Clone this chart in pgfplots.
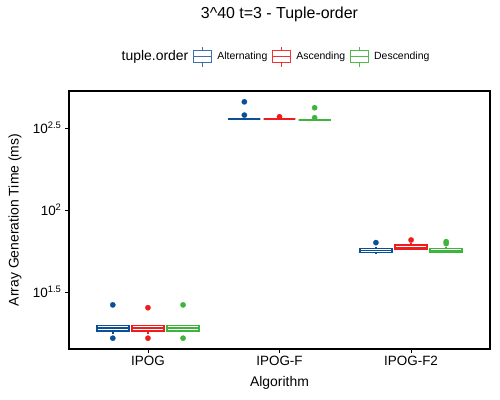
\documentclass[border=0pt]{standalone}
\usepackage{fontspec}
\setmainfont{Liberation Sans}
\usepackage{pgfplots}
\pgfplotsset{compat=1.18}
\usepgfplotslibrary{statistics}
\definecolor{cA}{HTML}{0B4F94}
\definecolor{cB}{HTML}{EE1C1C}
\definecolor{cC}{HTML}{3DB53D}
\pgfplotsset{
  legA/.style={legend image code/.code={
     \draw[cA!80, line width=1bp, fill=white] (0bp,-6bp) rectangle (18bp,6bp);
     \draw[cA!80, line width=1bp] (0bp,0bp) -- (18bp,0bp) (9bp,6bp) -- (9bp,10bp) (9bp,-6bp) -- (9bp,-10bp);}},
  legB/.style={legend image code/.code={
     \draw[cB!90, line width=1bp, fill=white] (0bp,-6bp) rectangle (18bp,6bp);
     \draw[cB!90, line width=1bp] (0bp,0bp) -- (18bp,0bp) (9bp,6bp) -- (9bp,10bp) (9bp,-6bp) -- (9bp,-10bp);}},
  legC/.style={legend image code/.code={
     \draw[cC!90, line width=1bp, fill=white] (0bp,-6bp) rectangle (18bp,6bp);
     \draw[cC!90, line width=1bp] (0bp,0bp) -- (18bp,0bp) (9bp,6bp) -- (9bp,10bp) (9bp,-6bp) -- (9bp,-10bp);}},
  bx/.style 2 args={draw=#1, /tikz/line width=#2, fill=white, forget plot, mark=*, mark size=2.7bp,
     mark options={solid, fill=#1, draw=#1, /tikz/line width=0.2bp},
     boxplot/every box/.style={draw=#1, fill=white, /tikz/line width=#2},
     boxplot/every median/.style={draw=#1, /tikz/line width=#2},
     boxplot/every whisker/.style={draw=#1, /tikz/line width=#2}},
}
\begin{document}
\begin{tikzpicture}
\useasboundingbox (0,0) rectangle (500bp,400bp);
\begin{axis}[
  at={(69bp,51bp)}, anchor=south west,
  scale only axis, width=421bp, height=258bp,
  xmin=0.4, xmax=3.6, ymin=1.152, ymax=2.726,
  xtick={1,2,3}, xticklabels={IPOG,IPOG-F,IPOG-F2},
  ytick={1.5,2,2.5},
  yticklabels={10\textsuperscript{1.5},10\textsuperscript{2},10\textsuperscript{2.5}},
  tick align=outside, tick pos=left, major tick length=4bp,
  every tick/.style={black, line width=0.8bp},
  axis line style={line width=1.2bp},
  ticklabel style={font=\fontsize{13.5}{16}\selectfont},
  xlabel={Algorithm}, ylabel={Array Generation Time (ms)},
  label style={font=\fontsize{14}{16}\selectfont},
  xlabel style={at={(0.5,-0.13)}, anchor=center},
  ylabel style={at={(-0.128,0.5)}, anchor=center},
  title={3\textasciicircum 40 t=3 - Tuple-order},
  title style={font=\fontsize{16}{18}\selectfont, at={(0.5,1.275)}, anchor=center},
  boxplot/draw direction=y,
  legend columns=-1,
  legend style={at={(0.487,1.133)}, anchor=center, draw=none, fill=none,
     font=\fontsize{10.5}{12}\selectfont, inner sep=0pt,
     /tikz/every even column/.append style={column sep=3bp},
     /tikz/every odd column/.append style={column sep=3bp}},
]
% IPOG
\addplot[bx={cA}{1.5bp}, boxplot prepared={draw position=0.733, box extend=0.243, whisker extend=0,
  lower whisker=1.246, lower quartile=1.263, median=1.279, upper quartile=1.296, upper whisker=1.296}]
  table[row sep=\\, y index=0]{y\\1.421\\1.218\\};
\addplot[bx={cB}{1.5bp}, boxplot prepared={draw position=1.0, box extend=0.243, whisker extend=0,
  lower whisker=1.246, lower quartile=1.263, median=1.279, upper quartile=1.296, upper whisker=1.296}]
  table[row sep=\\, y index=0]{y\\1.404\\1.218\\};
\addplot[bx={cC}{1.5bp}, boxplot prepared={draw position=1.267, box extend=0.243, whisker extend=0,
  lower whisker=1.263, lower quartile=1.263, median=1.279, upper quartile=1.296, upper whisker=1.296}]
  table[row sep=\\, y index=0]{y\\1.421\\1.218\\};
% IPOG-F
\addplot[bx={cA}{2.2bp}, boxplot prepared={draw position=1.733, box extend=0.243, whisker extend=0,
  lower whisker=2.553, lower quartile=2.553, median=2.553, upper quartile=2.553, upper whisker=2.553}]
  table[row sep=\\, y index=0]{y\\2.660\\2.579\\};
\addplot[bx={cB}{2.2bp}, boxplot prepared={draw position=2.0, box extend=0.243, whisker extend=0,
  lower whisker=2.553, lower quartile=2.553, median=2.553, upper quartile=2.553, upper whisker=2.553}]
  table[row sep=\\, y index=0]{y\\2.569\\};
\addplot[bx={cC}{2.2bp}, boxplot prepared={draw position=2.267, box extend=0.243, whisker extend=0,
  lower whisker=2.549, lower quartile=2.549, median=2.549, upper quartile=2.549, upper whisker=2.549}]
  table[row sep=\\, y index=0]{y\\2.624\\2.563\\};
% IPOG-F2
\addplot[bx={cA}{1.5bp}, boxplot prepared={draw position=2.733, box extend=0.243, whisker extend=0,
  lower whisker=1.733, lower quartile=1.741, median=1.753, upper quartile=1.765, upper whisker=1.776}]
  table[row sep=\\, y index=0]{y\\1.801\\};
\addplot[bx={cB}{1.5bp}, boxplot prepared={draw position=3.0, box extend=0.243, whisker extend=0,
  lower whisker=1.757, lower quartile=1.761, median=1.772, upper quartile=1.786, upper whisker=1.796}]
  table[row sep=\\, y index=0]{y\\1.817\\};
\addplot[bx={cC}{1.5bp}, boxplot prepared={draw position=3.267, box extend=0.243, whisker extend=0,
  lower whisker=1.740, lower quartile=1.743, median=1.754, upper quartile=1.765, upper whisker=1.776}]
  table[row sep=\\, y index=0]{y\\1.807\\1.795\\};
% legend
\addlegendimage{empty legend}\addlegendentry{\fontsize{14}{16}\selectfont tuple.order}
\addlegendimage{legA}\addlegendentry{Alternating}
\addlegendimage{legB}\addlegendentry{Ascending}
\addlegendimage{legC}\addlegendentry{Descending}
\end{axis}
\end{tikzpicture}
\end{document}
